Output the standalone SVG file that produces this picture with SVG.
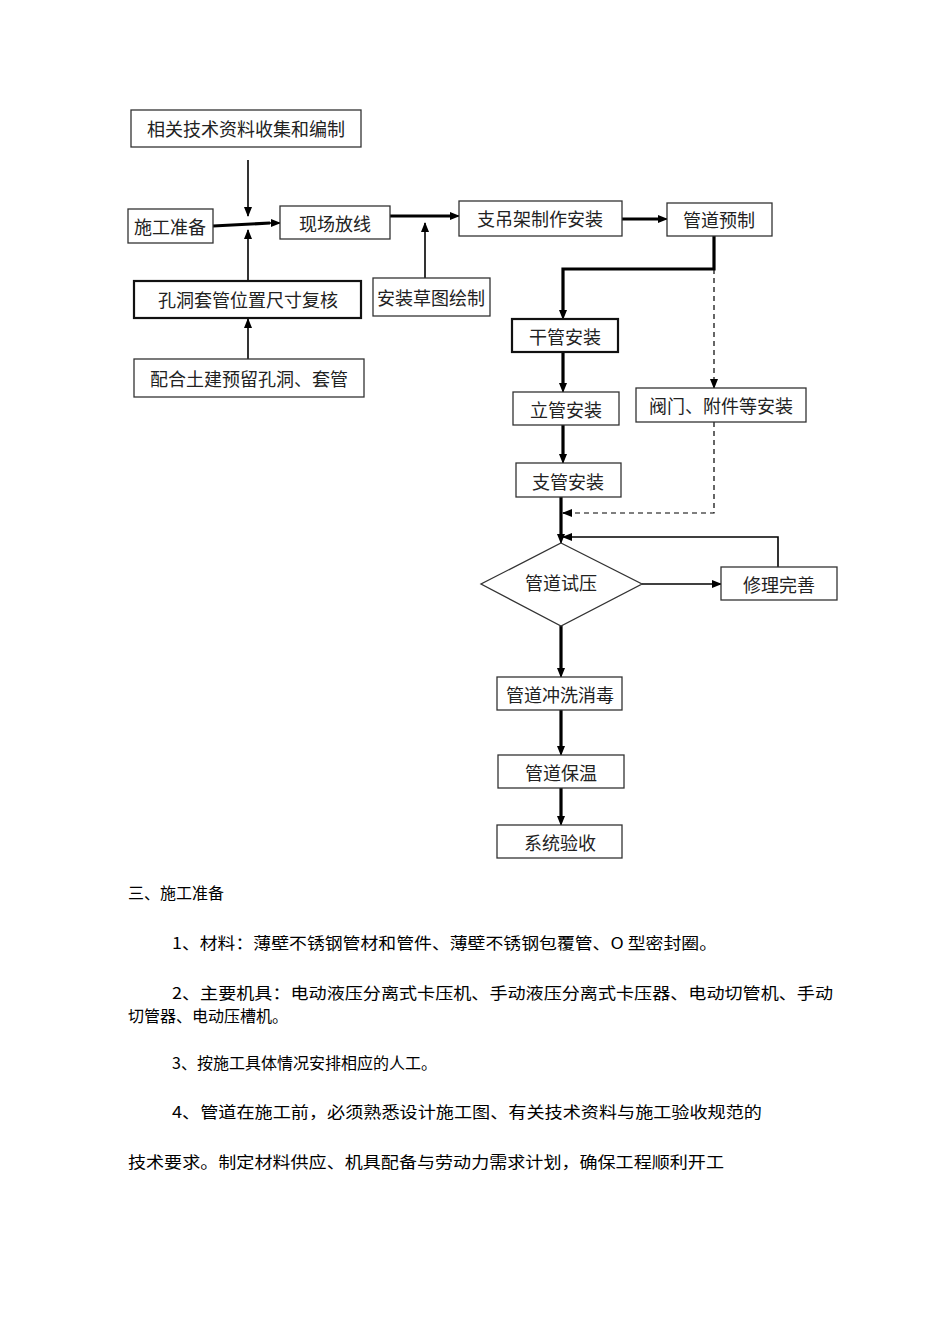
<svg xmlns="http://www.w3.org/2000/svg" width="950" height="1344" viewBox="0 0 950 1344">
<defs>
<marker id="a" markerWidth="10" markerHeight="10" refX="9" refY="5" orient="auto" markerUnits="userSpaceOnUse"><path d="M0,1 L10,5 L0,9 Z" fill="#000"/></marker>
<style>
.b{fill:#fff;stroke:#333;stroke-width:1.3}
.bt{fill:#fff;stroke:#111;stroke-width:2.2}
.t{font-family:"Noto Sans CJK SC",sans-serif;font-size:18px;fill:#222;text-anchor:middle;dominant-baseline:central}
.p{font-family:"Noto Sans CJK SC",sans-serif;font-size:16px;fill:#000}
.c{fill:none;stroke:#000;stroke-width:1.6}
.k{fill:none;stroke:#000;stroke-width:3.2}
.d{fill:none;stroke:#000;stroke-width:1.2;stroke-dasharray:5,4}
</style>
</defs>
<g id="connectors">
<path class="c" d="M248,160 V216" marker-end="url(#a)"/>
<path class="k" d="M213,226 L270,223"/><path class="c" d="M260,223 H280" marker-end="url(#a)"/>
<path class="c" d="M248,281 V230" marker-end="url(#a)"/>
<path class="c" d="M248,359 V319" marker-end="url(#a)"/>
<path class="k" d="M390,216 H450"/><path class="c" d="M445,216 H459" marker-end="url(#a)"/>
<path class="c" d="M425,278 V223" marker-end="url(#a)"/>
<path class="k" d="M622,219 H658"/><path class="c" d="M655,219 H667" marker-end="url(#a)"/>
<path class="k" d="M714,236 V269 H563 V310"/><path class="c" d="M563,305 V319" marker-end="url(#a)"/>
<path class="d" d="M714,269 V386"/><path class="c" d="M714,380 V388" marker-end="url(#a)"/>
<path class="k" d="M563,352 V384"/><path class="c" d="M563,380 V392" marker-end="url(#a)"/>
<path class="k" d="M563,425 V455"/><path class="c" d="M563,450 V463" marker-end="url(#a)"/>
<path class="k" d="M561,497 V535"/><path class="c" d="M561,530 V543" marker-end="url(#a)"/>
<path class="d" d="M714,422 V513 H570"/><path class="c" d="M572,513 H563" marker-end="url(#a)"/>
<path class="c" d="M778,567 V537 H563" marker-end="url(#a)"/>
<path class="c" d="M642,584 H721" marker-end="url(#a)"/>
<path class="k" d="M561,626 V668"/><path class="c" d="M561,664 V677" marker-end="url(#a)"/>
<path class="k" d="M561,710 V746"/><path class="c" d="M561,742 V755" marker-end="url(#a)"/>
<path class="k" d="M561,788 V816"/><path class="c" d="M561,812 V825" marker-end="url(#a)"/>
</g>
<g id="n1"><rect class="b" x="131" y="110" width="230" height="37"/><text class="t" x="246" y="128">相关技术资料收集和编制</text></g>
<g id="n2"><rect class="b" x="128" y="209" width="85" height="34"/><text class="t" x="170" y="226">施工准备</text></g>
<g id="n3"><rect class="b" x="280" y="206" width="110" height="33"/><text class="t" x="335" y="223">现场放线</text></g>
<g id="n4"><rect class="b" x="459" y="201" width="163" height="35"/><text class="t" x="540" y="218">支吊架制作安装</text></g>
<g id="n5"><rect class="b" x="667" y="203" width="105" height="33"/><text class="t" x="719" y="219">管道预制</text></g>
<g id="n6"><rect class="bt" x="134" y="281" width="227" height="37"/><text class="t" x="248" y="299">孔洞套管位置尺寸复核</text></g>
<g id="n7"><rect class="b" x="373" y="278" width="117" height="38"/><text class="t" x="431" y="297">安装草图绘制</text></g>
<g id="n8"><rect class="b" x="134" y="359" width="230" height="38"/><text class="t" x="249" y="378">配合土建预留孔洞、套管</text></g>
<g id="n9"><rect class="bt" x="512" y="319" width="106" height="33"/><text class="t" x="565" y="336">干管安装</text></g>
<g id="n10"><rect class="b" x="513" y="392" width="106" height="33"/><text class="t" x="566" y="409">立管安装</text></g>
<g id="n11"><rect class="b" x="636" y="388" width="170" height="34"/><text class="t" x="721" y="405">阀门、附件等安装</text></g>
<g id="n12"><rect class="b" x="516" y="463" width="105" height="34"/><text class="t" x="568" y="481">支管安装</text></g>
<g id="n13"><path class="b" d="M561,543 L642,584 L561,626 L481,584 Z"/><text class="t" x="561" y="582">管道试压</text></g>
<g id="n14"><rect class="b" x="721" y="567" width="116" height="33"/><text class="t" x="779" y="584">修理完善</text></g>
<g id="n15"><rect class="b" x="497" y="677" width="125" height="33"/><text class="t" x="560" y="694">管道冲洗消毒</text></g>
<g id="n16"><rect class="b" x="498" y="755" width="126" height="33"/><text class="t" x="561" y="772">管道保温</text></g>
<g id="n17"><rect class="b" x="497" y="825" width="125" height="33"/><text class="t" x="560" y="842">系统验收</text></g>
<g id="text">
<text class="p" x="128" y="899">三、施工准备</text>
<text class="p" x="172" y="949" textLength="545" lengthAdjust="spacingAndGlyphs">1、材料：薄壁不锈钢管材和管件、薄壁不锈钢包覆管、O 型密封圈。</text>
<text class="p" x="172" y="999" textLength="661" lengthAdjust="spacingAndGlyphs">2、主要机具：电动液压分离式卡压机、手动液压分离式卡压器、电动切管机、手动</text>
<text class="p" x="128" y="1022">切管器、电动压槽机。</text>
<text class="p" x="172" y="1069">3、按施工具体情况安排相应的人工。</text>
<text class="p" x="172" y="1118" textLength="590" lengthAdjust="spacingAndGlyphs">4、管道在施工前，必须熟悉设计施工图、有关技术资料与施工验收规范的</text>
<text class="p" x="128" y="1168" textLength="596" lengthAdjust="spacingAndGlyphs">技术要求。制定材料供应、机具配备与劳动力需求计划，确保工程顺利开工</text>
</g>
</svg>
